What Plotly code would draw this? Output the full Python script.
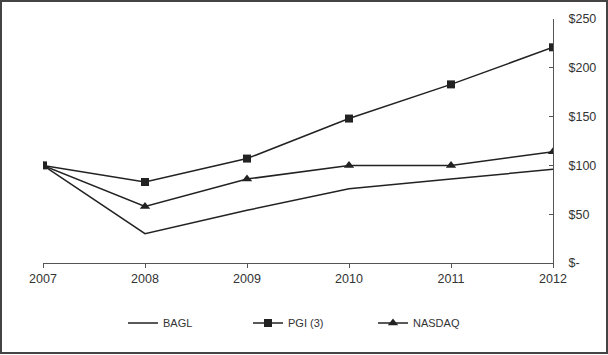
import plotly.graph_objects as go

years = ["2007", "2008", "2009", "2010", "2011", "2012"]
bagl = [100, 30, 54, 76, 86, 96]
pgi = [100, 83, 107, 148, 183, 221]
nasdaq = [100, 58, 86, 100, 100, 114]
y_tickvals = [0, 50, 100, 150, 200, 250]
y_ticktext = ["$-", "$50", "$100", "$150", "$200", "$250"]

W, H = 608, 355
ml, mr, mt, mb = 43, 55, 19, 92
pw, ph = W - ml - mr, H - mt - mb

LINE = "#222222"
FONT = "Liberation Sans, Arial, sans-serif"

fig = go.Figure()
fig.add_trace(go.Scatter(x=years, y=bagl, name="BAGL", mode="lines",
                         line=dict(color=LINE, width=1.5)))
fig.add_trace(go.Scatter(x=years, y=pgi, name="PGI (3)", mode="lines+markers",
                         line=dict(color=LINE, width=1.5),
                         marker=dict(symbol="square", size=8, color=LINE)))
fig.add_trace(go.Scatter(x=years, y=nasdaq, name="NASDAQ", mode="lines+markers",
                         line=dict(color=LINE, width=1.5),
                         marker=dict(symbol="triangle-up", size=9, color=LINE)))

# border around whole figure
fig.add_shape(type="rect", xref="paper", yref="paper",
              x0=(1 - ml) / pw, x1=(W - 1 - ml) / pw,
              y0=-(mb - 2) / ph, y1=1 + (mt - 1) / ph,
              line=dict(color="#444444", width=2), fillcolor="rgba(0,0,0,0)")

fig.update_layout(
    width=W, height=H,
    margin=dict(l=ml, r=mr, t=mt, b=mb),
    paper_bgcolor="white", plot_bgcolor="white",
    font=dict(family=FONT, color="#333333", size=12.5),
    showlegend=True,
    legend=dict(orientation="h", x=(123 - ml) / pw, xanchor="left",
                y=-(323 - mt - ph) / ph, yanchor="middle",
                font=dict(size=11, family=FONT, color="#333333"),
                entrywidth=80, entrywidthmode="pixels",
                bgcolor="rgba(0,0,0,0)"),
    xaxis=dict(type="category", range=[0, 5], showgrid=False, zeroline=False,
               showline=True, linecolor="#555555", linewidth=1,
               ticks="outside", ticklen=4, tickcolor="#555555",
               tickfont=dict(size=12.5, color="#333333")),
    yaxis=dict(side="right", range=[0, 250], tickvals=y_tickvals, ticktext=y_ticktext,
               showgrid=False, zeroline=False, showline=True,
               linecolor="#555555", linewidth=1,
               ticks="inside", ticklen=4, tickcolor="#555555",
               ticklabelstandoff=12,
               tickfont=dict(size=12.5, color="#333333")),
)

fig.write_html("out.html", config={"displayModeBar": False},
               post_script="document.body.style.margin='0';document.body.style.overflow='hidden';")
